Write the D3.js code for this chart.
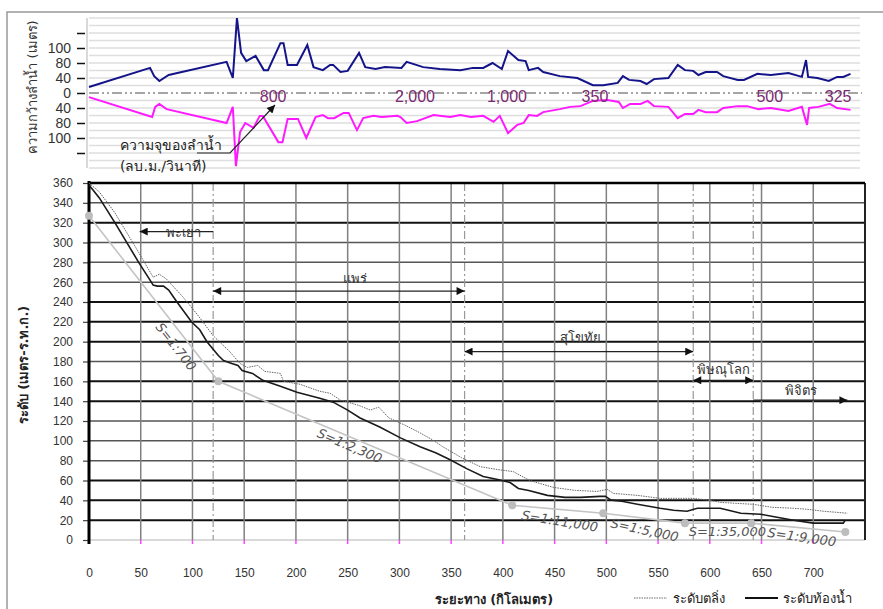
<!DOCTYPE html>
<html>
<head>
<meta charset="utf-8">
<script src="https://cdn.jsdelivr.net/npm/d3@7.9.0/dist/d3.min.js"></script>
<style>
  body { margin: 0; background: #fff; }
  svg { display: block; font-family: Tahoma, "DejaVu Sans", "Noto Sans", sans-serif; }
</style>
</head>
<body>
<svg id="chart" width="883" height="609"></svg>
<script>
// river width (m), upper = left bank side, lower = right bank side
const widthTopKm = [0,59,63,68,77,133,139,143,147,152,161,169,173,185,188,192,201,211,217,226,233,236,243,250,261,267,277,286,302,307,323,339,359,371,381,390,399,405,415,422,425,434,439,455,472,487,497,511,516,522,533,539,546,560,569,576,584,589,596,607,613,627,633,646,659,676,689,693,695,704,715,723,729,736];
const widthTopVal = [16,67,45,32,48,83,40,200,107,85,99,61,61,133,133,75,75,128,69,61,75,75,56,59,107,69,64,69,67,83,69,64,61,67,67,80,64,112,88,85,61,67,56,45,40,21,21,27,45,35,32,24,37,40,75,61,59,48,56,56,45,35,35,51,48,53,43,88,43,40,32,43,43,51];
const widthBotKm = [0,61,64,68,75,133,139,142,146,151,159,165,168,183,187,192,202,210,219,226,231,237,246,251,259,265,275,283,298,301,307,317,333,349,359,369,381,391,397,405,414,420,425,433,439,455,465,475,487,501,512,516,523,533,540,546,560,569,576,584,589,596,607,613,627,636,647,659,676,689,694,696,705,716,723,736];
const widthBotVal = [11,64,37,29,43,80,37,195,104,80,93,61,61,131,131,69,69,120,64,59,67,67,53,53,99,67,61,64,61,64,80,75,59,64,59,64,61,77,61,107,85,80,59,61,51,43,37,35,21,19,24,40,29,29,21,35,37,67,56,56,45,51,51,40,35,35,43,40,48,37,85,40,37,29,40,45];
const widthTickVals = [-160,-120,-80,-40,0,40,80,120,160];
const widthTickLabels = ["","100","80","40","0","40","80","100",""];

// bankfull capacity (m3/s) labels
const capKm = [178,315,404,489,658,724];
const capLabels = ["800","2,000","1,000","350","500","325"];

// longitudinal profile
const bedKm = [0,10,25,48,59,62,66,72,77,85,99,107,114,125,130,138,144,148,158,168,185,201,212,223,236,250,262,281,301,320,335,349,365,381,395,407,415,425,443,460,475,494,499,505,515,530,552,565,578,588,610,630,649,665,681,700,729,731];
const bedElev = [358,345,320,280,262,257,256,256,252,240,220,212,200,186,181,178,176,171,168,161,155,149,146,143,139,131,123,114,103,94,88,81,72,64,61,58,52,50,45,43,43,44,44,40,39,36,32,30,29,32,32,27,26,23,20,17,17,20];
const bankKm = [0,10,25,48,62,68,75,90,105,120,136,146,153,163,170,185,188,204,223,233,243,260,272,280,290,305,320,332,342,360,378,395,410,426,449,470,491,501,507,530,552,584,600,610,625,642,660,681,694,710,733];
const bankElev = [360,351,330,290,265,268,263,246,227,206,190,178,174,176,170,168,160,157,150,148,141,136,131,134,123,116,108,101,94,83,74,71,69,60,53,50,49,51,47,45,42,42,40,38,37,36,33,32,31,29,27];
const slopeKm = [0,125,409,497,576,640,731];
const slopeElev = [327,160,35,27,17,17,8];
const slopeLabels = ["S=1:700","S=1:2,300","S=1:11,000","S=1:5,000","S=1:35,000","S=1:9,000"];

// provinces along the river
const provNames = ["พะเยา","แพร่","สุโขทัย","พิษณุโลก","พิจิตร"];
const provFrom = [120,120,363,584,642];
const provTo = [49,363,584,642,733];
const provElev = [311,251,190,161,141];
const provBoth = [false,true,true,true,false];
const boundaryKm = [120,363,584,642];

const xTicks = d3.range(0, 701, 50);
const yTicks = d3.range(0, 361, 20);

const svg = d3.select("#chart");
const x = d3.scaleLinear().domain([0, 750]).range([89, 865]);
const y = d3.scaleLinear().domain([0, 360]).range([540, 183]);
const yw = d3.scaleLinear().domain([-200, 200]).range([168, 18]);

// outer frame
svg.append("path").attr("d", "M7,609V12H883").attr("fill", "none")
  .attr("stroke", "#999").attr("stroke-width", 1.5);

const defs = svg.append("defs");
defs.append("marker").attr("id", "ah").attr("viewBox", "0 0 10 10")
  .attr("refX", 10).attr("refY", 5).attr("markerWidth", 9).attr("markerHeight", 8)
  .attr("markerUnits", "userSpaceOnUse").attr("orient", "auto-start-reverse")
  .append("path").attr("d", "M0,0L10,5L0,10z").attr("fill", "#111");

// ---------- upper panel: river width ----------
const widthG = svg.append("g");
widthG.selectAll("line.wg").data(d3.range(-200, 201, 20).filter(d => d !== 0)).join("line")
  .attr("x1", 89).attr("x2", 860).attr("y1", d => yw(d)).attr("y2", d => yw(d))
  .attr("stroke", "#dedede").attr("stroke-width", 1.5);
widthG.append("line").attr("x1", 87).attr("x2", 87).attr("y1", 18).attr("y2", 168)
  .attr("stroke", "#ccc").attr("stroke-width", 1.5);
widthG.append("line").attr("x1", 89).attr("x2", 862).attr("y1", yw(0)).attr("y2", yw(0))
  .attr("stroke", "#888").attr("stroke-width", 1.3).attr("stroke-dasharray", "10,3,2,3,2,3");

const wAxis = widthG.append("g").attr("transform", "translate(85,0)")
  .call(d3.axisLeft(yw).tickValues(widthTickVals).tickSize(8).tickSizeOuter(0)
    .tickFormat(d => widthTickLabels[widthTickVals.indexOf(d)]));
wAxis.select(".domain").remove();
wAxis.selectAll(".tick line").attr("stroke", "#111").attr("stroke-width", 1.5);
wAxis.selectAll(".tick text").attr("font-size", 14).attr("fill", "#333")
  .attr("font-family", "'Liberation Sans', Arial, sans-serif").attr("x", -14);

widthG.append("text").attr("transform", "translate(37,87) rotate(-90)")
  .attr("text-anchor", "middle").attr("font-size", 13).attr("fill", "#333")
  .text("ความกว้างลำน้ำ (เมตร)");

const wLine = d3.line().x(d => x(d[0])).y(d => yw(d[1]));
widthG.append("path").datum(d3.zip(widthTopKm, widthTopVal))
  .attr("d", wLine).attr("fill", "none").attr("stroke", "#14148a").attr("stroke-width", 2);
widthG.append("path").datum(d3.zip(widthBotKm, widthBotVal.map(v => -v)))
  .attr("d", wLine).attr("fill", "none").attr("stroke", "#ff19ff").attr("stroke-width", 2);

widthG.selectAll("text.cap").data(capLabels).join("text").attr("class", "cap")
  .attr("x", (d, i) => x(capKm[i])).attr("y", 102).attr("text-anchor", "middle")
  .attr("font-size", 16).attr("fill", "#7a2a70")
  .attr("font-family", "'Liberation Sans', Arial, sans-serif").text(d => d);

widthG.append("text").attr("x", 120).attr("y", 150).attr("font-size", 14).attr("fill", "#222")
  .text("ความจุของลำน้ำ");
widthG.append("text").attr("x", 120).attr("y", 171).attr("font-size", 14).attr("fill", "#222")
  .text("(ลบ.ม./วินาที)");
widthG.append("path").attr("d", "M197,153H230L275,105").attr("fill", "none")
  .attr("stroke", "#222").attr("stroke-width", 1.2).attr("marker-end", "url(#ah)");

// ---------- lower panel: longitudinal profile ----------
const prof = svg.append("g");
const darkRows = [20, 40, 60, 140, 160, 200, 220, 240, 320, 360];
prof.selectAll("line.hg").data(yTicks.filter(d => d > 0)).join("line")
  .attr("x1", 89).attr("x2", 865).attr("y1", d => y(d)).attr("y2", d => y(d))
  .attr("stroke", d => darkRows.includes(d) ? "#111" : "#555")
  .attr("stroke-width", d => darkRows.includes(d) ? 2 : 1.5);
prof.append("line").attr("x1", 89).attr("x2", 865).attr("y1", y(0)).attr("y2", y(0))
  .attr("stroke", "#ccc").attr("stroke-width", 1.5);
prof.selectAll("line.vg").data(xTicks.filter(d => d > 0)).join("line")
  .attr("x1", d => x(d)).attr("x2", d => x(d)).attr("y1", y(360)).attr("y2", y(0))
  .attr("stroke", "#808080").attr("stroke-width", 1.5);
prof.append("line").attr("x1", x(750)).attr("x2", x(750)).attr("y1", y(360)).attr("y2", y(0))
  .attr("stroke", "#222").attr("stroke-width", 2);
prof.selectAll("line.bd").data(boundaryKm).join("line")
  .attr("x1", d => x(d)).attr("x2", d => x(d)).attr("y1", y(360)).attr("y2", y(0))
  .attr("stroke", "#999").attr("stroke-width", 1.2).attr("stroke-dasharray", "8,3,2,3");

// pink ticks on x axis
prof.selectAll("line.pk").data(xTicks.filter(d => d > 0)).join("line")
  .attr("x1", d => x(d)).attr("x2", d => x(d)).attr("y1", y(0)).attr("y2", y(0) + 4)
  .attr("stroke", "#ff44ff").attr("stroke-width", 1.5);

const xAxis = prof.append("g").attr("transform", `translate(0,${y(0) + 25})`)
  .call(d3.axisBottom(x).tickValues(xTicks).tickSize(0));
xAxis.select(".domain").remove();
xAxis.selectAll("text").attr("font-size", 12).attr("fill", "#333")
  .attr("font-family", "'Liberation Sans', Arial, sans-serif");

const yAxis = prof.append("g").attr("transform", "translate(89,0)")
  .call(d3.axisLeft(y).tickValues(yTicks).tickSize(6));
yAxis.select(".domain").remove();
yAxis.selectAll(".tick line").attr("stroke", "#444").attr("stroke-width", 1.2);
yAxis.selectAll(".tick text").attr("font-size", 12).attr("fill", "#333")
  .attr("font-family", "'Liberation Sans', Arial, sans-serif").attr("x", -16);
prof.append("line").attr("x1", 89).attr("x2", 89).attr("y1", y(360) - 2).attr("y2", y(0) + 4)
  .attr("stroke", "#000").attr("stroke-width", 3);
prof.append("line").attr("x1", 89).attr("x2", 865).attr("y1", y(360)).attr("y2", y(360))
  .attr("stroke", "#000").attr("stroke-width", 2.5);

// slope line
prof.append("path").datum(d3.zip(slopeKm, slopeElev))
  .attr("d", d3.line().x(d => x(d[0])).y(d => y(d[1])))
  .attr("fill", "none").attr("stroke", "#c4c4c4").attr("stroke-width", 1.6);
prof.selectAll("circle.sd").data(d3.zip(slopeKm, slopeElev)).join("circle")
  .attr("cx", d => x(d[0])).attr("cy", d => y(d[1])).attr("r", 4).attr("fill", "#bdbdbd");

// slope labels near their segments
const slopeLblPos = [[84, 195, 52], [252, 95, 23], [455, 19, 9], [537, 10, 12], [617, 9, 0], [689, 3, 8]];
prof.selectAll("text.sl").data(slopeLabels).join("text")
  .attr("transform", (d, i) => `translate(${x(slopeLblPos[i][0])},${y(slopeLblPos[i][1])}) rotate(${slopeLblPos[i][2]})`)
  .attr("text-anchor", "middle").attr("dy", "0.35em").attr("font-size", 13)
  .attr("font-style", "italic").attr("fill", "#555").text(d => d);

// bank and bed
prof.append("path").datum(d3.zip(bankKm, bankElev))
  .attr("d", d3.line().x(d => x(d[0])).y(d => y(d[1])))
  .attr("fill", "none").attr("stroke", "#666").attr("stroke-width", 1).attr("stroke-dasharray", "1.5,1");
prof.append("path").datum(d3.zip(bedKm, bedElev))
  .attr("d", d3.line().x(d => x(d[0])).y(d => y(d[1])))
  .attr("fill", "none").attr("stroke", "#1a1a1a").attr("stroke-width", 1.6);

// province arrows
provNames.forEach((name, i) => {
  const yy = y(provElev[i]);
  const ln = prof.append("line").attr("x1", x(provFrom[i])).attr("x2", x(provTo[i]))
    .attr("y1", yy).attr("y2", yy).attr("stroke", "#222").attr("stroke-width", 1.3)
    .attr("marker-end", "url(#ah)");
  if (provBoth[i]) ln.attr("marker-start", "url(#ah)");
});
const provLblX = [91, 257, 475, 613, 688];
const provLblDy = [5, -8, -10, -6, -5];
prof.selectAll("text.pv").data(provNames).join("text")
  .attr("x", (d, i) => x(provLblX[i])).attr("y", (d, i) => y(provElev[i]) + provLblDy[i])
  .attr("text-anchor", "middle").attr("font-size", 13).attr("fill", "#333").text(d => d);

// titles
svg.append("text").attr("transform", "translate(28,365) rotate(-90)")
  .attr("text-anchor", "middle").attr("font-size", 13).attr("font-weight", "bold")
  .attr("fill", "#222").text("ระดับ (เมตร-ร.ท.ก.)");
svg.append("text").attr("x", 494).attr("y", 604).attr("text-anchor", "middle")
  .attr("font-size", 13).attr("font-weight", "bold").attr("fill", "#222")
  .text("ระยะทาง (กิโลเมตร)");

// legend
const lg = svg.append("g");
lg.append("line").attr("x1", 634).attr("x2", 667).attr("y1", 598).attr("y2", 598)
  .attr("stroke", "#666").attr("stroke-width", 1).attr("stroke-dasharray", "1.5,1");
lg.append("text").attr("x", 673).attr("y", 603).attr("font-size", 13).attr("fill", "#222").text("ระดับตลิ่ง");
lg.append("line").attr("x1", 745).attr("x2", 778).attr("y1", 598).attr("y2", 598)
  .attr("stroke", "#111").attr("stroke-width", 2);
lg.append("text").attr("x", 783).attr("y", 603).attr("font-size", 13).attr("fill", "#222").text("ระดับท้องน้ำ");
</script>
</body>
</html>
